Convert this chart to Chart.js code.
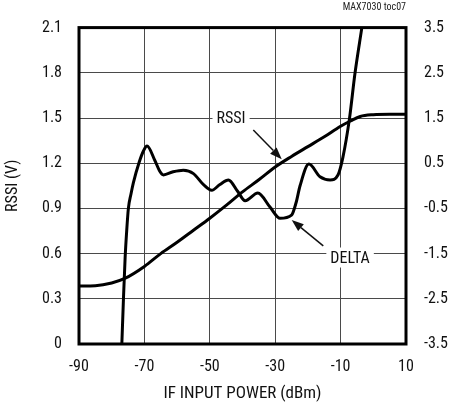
<!DOCTYPE html>
<html><head><meta charset="utf-8">
<script src="https://cdn.jsdelivr.net/npm/chart.js@4/dist/chart.umd.min.js"></script>
<style>html,body{margin:0;padding:0;background:#fff}#wrap{width:453px;height:404px}</style>
</head><body><div id="wrap"><canvas id="c" width="453" height="404"></canvas></div>
<script>
// ---- data ----
const xTicks = [-90, -70, -50, -30, -10, 10];
const rssiTicks = [0, 0.3, 0.6, 0.9, 1.2, 1.5, 1.8, 2.1];
const deltaTicks = [-3.5, -2.5, -1.5, -0.5, 0.5, 1.5, 2.5, 3.5];

const rssiX = [-90, -85, -80, -76, -70, -65, -60, -55, -50, -45, -40, -35, -30, -25, -20, -15, -10, -7, -4, 0, 5, 10];
const rssiY = [0.385, 0.387, 0.405, 0.435, 0.515, 0.6, 0.675, 0.755, 0.835, 0.92, 1.01, 1.09, 1.175, 1.245, 1.31, 1.375, 1.445, 1.48, 1.51, 1.522, 1.525, 1.525];

const deltaX = [-76.9, -76.4, -75.9, -75.4, -74.9, -74.1, -73.4, -71.6, -70.3, -69.2, -66.8, -65.2, -64.2, -61.2, -58.1, -55.0, -52.0, -49.4, -46.9, -44.3, -41.5, -39.2, -35.3, -31.6, -28.5, -25.0, -23.6, -22.4, -19.7, -16.3, -13.2, -10.8, -9.3, -7.3, -5.6, -3.5];
const deltaY = [-3.5, -2.49, -1.6, -0.98, -0.5, -0.18, 0.06, 0.52, 0.77, 0.88, 0.56, 0.31, 0.24, 0.31, 0.345, 0.27, 0.03, -0.10, 0.03, 0.13, -0.12, -0.33, -0.16, -0.47, -0.72, -0.65, -0.37, 0.0, 0.48, 0.2, 0.13, 0.24, 0.63, 1.48, 2.49, 3.5];

const seriesNames = ['RSSI', 'DELTA'];
const xTitle = 'IF INPUT POWER (dBm)';
const yTitle = 'RSSI (V)';
const tagText = 'MAX7030 toc07';

// annotation callouts (data coordinates: x in dBm, y in RSSI volts)
const callouts = [
  {text: 'RSSI',  x: -43.5, y: 1.5,   from: [-36.7, 1.42],  to: [-28.0, 1.227]},
  {text: 'DELTA', x: -7.1,  y: 0.574, from: [-15.3, 0.651], to: [-24.95, 0.823]}
];

const FONT = '"Liberation Sans Narrow","Arial Narrow","Roboto Condensed",sans-serif';
const GRID = '#4a4a4a';

const toXY = (xs, ys) => xs.map((x, i) => ({x: x, y: ys[i]}));

const setTicks = arr => scale => { scale.ticks = arr.map(v => ({value: v})); };

const decor = {
  id: 'decor',
  afterDatasetsDraw(chart) {
    const ctx = chart.ctx, xs = chart.scales.x, ys = chart.scales.y;
    ctx.save();
    ctx.font = '16px ' + FONT;
    ctx.textAlign = 'center';
    ctx.textBaseline = 'middle';
    callouts.forEach(c => {
      const px = xs.getPixelForValue(c.x), py = ys.getPixelForValue(c.y);
      const w = ctx.measureText(c.text).width;
      ctx.fillStyle = '#fff';
      ctx.fillRect(px - w / 2 - 4, py - 10, w + 8, 20);
      ctx.fillStyle = '#111';
      ctx.fillText(c.text, px, py + 1);
      const x1 = xs.getPixelForValue(c.from[0]), y1 = ys.getPixelForValue(c.from[1]);
      const x2 = xs.getPixelForValue(c.to[0]), y2 = ys.getPixelForValue(c.to[1]);
      const ang = Math.atan2(y2 - y1, x2 - x1);
      const hl = 12, hw = 4.5;
      const bx = x2 - hl * Math.cos(ang), by = y2 - hl * Math.sin(ang);
      ctx.strokeStyle = '#111';
      ctx.lineWidth = 1.5;
      ctx.beginPath(); ctx.moveTo(x1, y1); ctx.lineTo(bx, by); ctx.stroke();
      ctx.fillStyle = '#111';
      ctx.beginPath();
      ctx.moveTo(x2, y2);
      ctx.lineTo(bx + hw * Math.sin(ang), by - hw * Math.cos(ang));
      ctx.lineTo(bx - hw * Math.sin(ang), by + hw * Math.cos(ang));
      ctx.closePath(); ctx.fill();
    });
    const a = chart.chartArea;
    ctx.strokeStyle = '#000';
    ctx.lineWidth = 3;
    ctx.strokeRect(a.left, a.top, a.right - a.left, a.bottom - a.top);
    ctx.font = '10px ' + FONT;
    ctx.textAlign = 'right';
    ctx.textBaseline = 'middle';
    ctx.fillStyle = '#222';
    ctx.fillText(tagText, a.right, 7);
    ctx.restore();
  }
};

new Chart(document.getElementById('c'), {
  type: 'line',
  data: {
    datasets: [
      {label: seriesNames[0], data: toXY(rssiX, rssiY), yAxisID: 'y', borderColor: '#000', borderWidth: 3, pointRadius: 0, cubicInterpolationMode: 'monotone', fill: false},
      {label: seriesNames[1], data: toXY(deltaX, deltaY), yAxisID: 'y1', borderColor: '#000', borderWidth: 3, pointRadius: 0, cubicInterpolationMode: 'monotone', fill: false}
    ]
  },
  options: {
    responsive: false,
    animation: false,
    devicePixelRatio: 1,
    layout: {padding: {top: 15, left: 0, right: 0, bottom: 0}},
    plugins: {legend: {display: false}, tooltip: {enabled: false}, title: {display: false}},
    scales: {
      x: {
        type: 'linear', min: -90, max: 10,
        afterBuildTicks: setTicks(xTicks),
        afterFit: s => { s.height = 60; },
        grid: {color: GRID, lineWidth: 1, drawTicks: false},
        border: {display: false},
        ticks: {font: {family: FONT, size: 16}, color: '#111', padding: 13, maxRotation: 0, autoSkip: false,
                callback: v => String(v)},
        title: {display: true, text: xTitle, font: {family: FONT, size: 17}, color: '#111', padding: {top: 0, bottom: 0}}
      },
      y: {
        position: 'left', min: 0, max: 2.1,
        afterBuildTicks: setTicks(rssiTicks),
        afterFit: s => { s.width = 79; },
        grid: {color: GRID, lineWidth: 1, drawTicks: false},
        border: {display: false},
        ticks: {font: {family: FONT, size: 16}, color: '#111', padding: 17,
                callback: v => (v === 0 ? '0' : v.toFixed(1))},
        title: {display: true, text: yTitle, font: {family: FONT, size: 16}, color: '#111', padding: {top: 3, bottom: 0}}
      },
      y1: {
        position: 'right', min: -3.5, max: 3.5,
        afterBuildTicks: setTicks(deltaTicks),
        afterFit: s => { s.width = 47; },
        grid: {drawOnChartArea: false, drawTicks: false},
        border: {display: false},
        ticks: {font: {family: FONT, size: 16}, color: '#111', padding: 18,
                callback: v => v.toFixed(1)}
      }
    }
  },
  plugins: [decor]
});
</script></body></html>
